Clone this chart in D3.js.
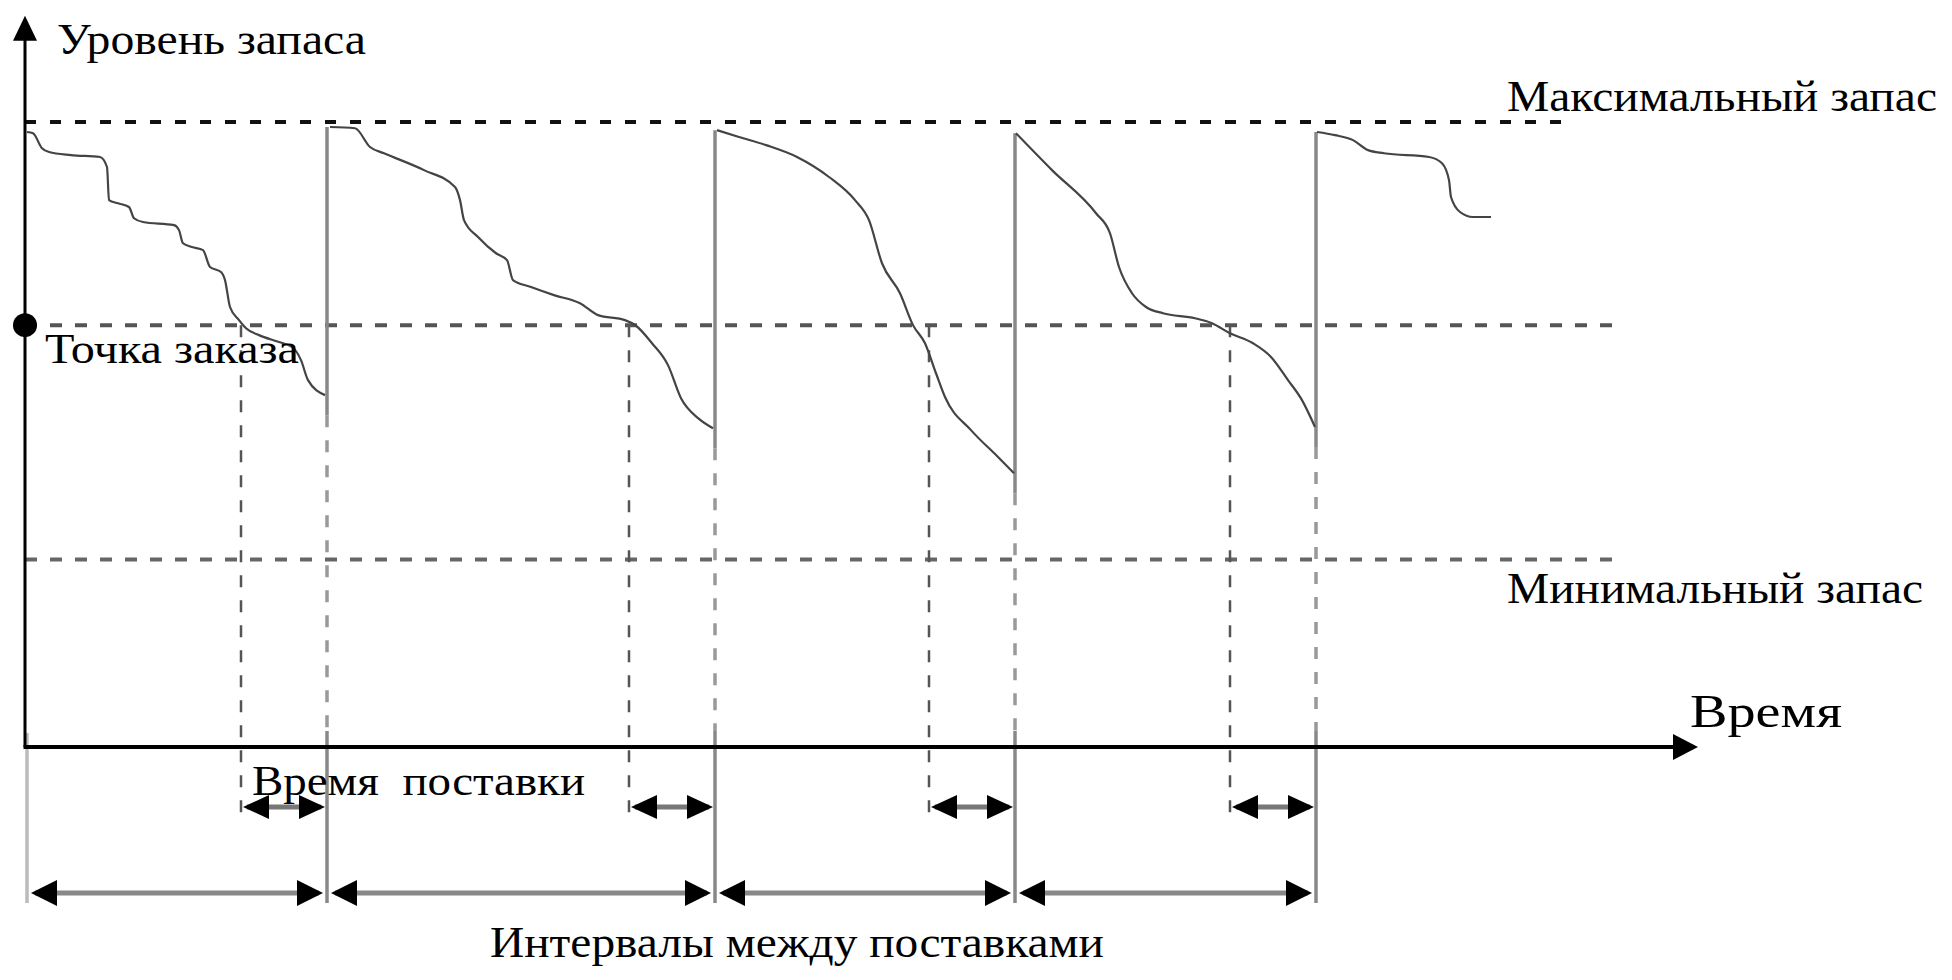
<!DOCTYPE html>
<html><head><meta charset="utf-8">
<script src="https://cdn.jsdelivr.net/npm/d3@7"></script>
<style>
html,body{margin:0;padding:0;background:#fff;}
svg{display:block;}
text{font-family:"Liberation Serif","DejaVu Serif",serif;fill:#000;}
</style>
</head><body>
<svg id="chart" width="1952" height="980"></svg>
<script>
// ---- data (time units / stock level units, max stock = 100) ----
const cycle1 = [[0.2,98.4],[0.8,98.2],[1.7,95.8],[2.4,95.2],[4.6,94.7],[7.5,94.4],[8.2,92.8],[8.4,87.5],[9.3,87.0],[10.4,86.4],[10.9,84.6],[11.8,84.0],[14.9,83.5],[15.4,82.7],[15.8,80.6],[16.7,80.0],[17.8,79.5],[18.5,76.8],[19.6,76.0],[20.0,74.7],[20.5,70.4],[21.4,68.3],[22.1,67.0],[23.4,65.9],[25.4,64.8],[26.7,64.0],[27.6,61.9],[28.3,58.7],[30.0,56.3]];
const cycle2 = [[30.5,99.2],[33.0,99.0],[34.5,96.0],[35.9,95.0],[39.9,92.3],[43.0,89.6],[43.5,87.5],[43.9,84.3],[45.3,81.6],[47.1,79.0],[48.2,77.9],[48.8,74.7],[50.6,73.6],[52.9,72.3],[55.5,71.0],[57.3,69.1],[60.0,68.3],[61.1,67.4],[62.7,64.6],[64.3,61.1],[65.6,55.8],[67.4,52.5],[68.8,51.0]];
const cycle3 = [[69.2,98.7],[71.4,97.6],[74.1,96.3],[77.2,94.4],[80.4,91.2],[83.0,87.5],[84.4,84.3],[85.7,77.4],[87.5,72.6],[88.8,67.5],[90.0,64.6],[91.1,59.8],[92.0,56.0],[94.6,50.7],[97.3,46.4],[98.9,43.8]];
const cycle4 = [[99.1,98.2],[102.7,92.3],[107.1,85.4],[108.5,82.2],[109.4,76.8],[110.7,72.6],[112.1,70.4],[113.8,69.4],[117.0,68.6],[118.7,67.8],[120.5,66.2],[122.8,64.6],[124.6,62.4],[126.3,58.7],[127.7,55.5],[129.0,51.2]];
const cycle5 = [[129.2,98.4],[131.0,97.9],[132.8,97.1],[134.3,95.5],[135.9,95.0],[140.4,94.4],[141.7,93.4],[142.4,90.7],[142.6,88.0],[143.5,85.6],[144.8,84.8],[146.6,84.8]];
const cycles = [cycle1, cycle2, cycle3, cycle4, cycle5];

const orderTimes    = [21.6, 60.4, 90.4, 120.5];
const deliveryTimes = [30.2, 69.0, 99.0, 129.1];
const intervalBounds = [0.2, 30.2, 69.0, 99.0, 129.1];

const maxLevel = 100;
const reorderLevel = 67.5;
const minLevel = 30;

const labelYAxis   = "Уровень запаса";
const labelXAxis   = "Время";
const labelMax     = "Максимальный запас";
const labelMin     = "Минимальный запас";
const labelReorder = "Точка заказа";
const labelLead    = "Время  поставки";
const labelCycle   = "Интервалы между поставками";

// ---- scales ----
const x = d3.scaleLinear().domain([0, 167.3]).range([25, 1698]);
const y = d3.scaleLinear().domain([0, 100]).range([747, 122]);

const svg = d3.select("#chart");
const g = svg.append("g");
const y0 = y(0);

// reference lines
function hline(level, t1, color, width, dash) {
  g.append("line").attr("x1", x(0)).attr("x2", x(t1))
    .attr("y1", y(level)).attr("y2", y(level))
    .attr("stroke", color).attr("stroke-width", width).attr("stroke-dasharray", dash);
}
hline(maxLevel, 154.0, "#111", 4, "11,14");
hline(reorderLevel, 159.4, "#555", 4, "12,13");
hline(minLevel, 159.4, "#666", 4, "12,13");

// order-point dashed verticals
g.selectAll(".order").data(orderTimes).enter().append("line")
  .attr("x1", d => x(d)).attr("x2", d => x(d))
  .attr("y1", y(reorderLevel)).attr("y2", y0 + 66)
  .attr("stroke", "#555").attr("stroke-width", 2.5).attr("stroke-dasharray", "12,13");

// replenishment verticals
deliveryTimes.forEach((t, i) => {
  const prev = cycles[i], next = cycles[i + 1];
  const top = y(next[0][1]);
  const low = y(prev[prev.length - 1][1]);
  g.append("line").attr("x1", x(t)).attr("x2", x(t)).attr("y1", top).attr("y2", low + 20)
    .attr("stroke", "#888").attr("stroke-width", 3.5);
  g.append("line").attr("x1", x(t)).attr("x2", x(t)).attr("y1", low + 20).attr("y2", y0 - 16)
    .attr("stroke", "#999").attr("stroke-width", 3.5).attr("stroke-dasharray", "12,13");
  g.append("line").attr("x1", x(t)).attr("x2", x(t)).attr("y1", y0 - 16).attr("y2", y0 + 156)
    .attr("stroke", "#888").attr("stroke-width", 3.5);
});
// left boundary below axis
g.append("line").attr("x1", x(intervalBounds[0])).attr("x2", x(intervalBounds[0]))
  .attr("y1", y0 - 14).attr("y2", y0 + 156).attr("stroke", "#bbb").attr("stroke-width", 3.5);

// stock curves
const line = d3.line().x(d => x(d[0])).y(d => y(d[1])).curve(d3.curveMonotoneX);
g.selectAll(".cyc").data(cycles).enter().append("path")
  .attr("d", line).attr("fill", "none").attr("stroke", "#444").attr("stroke-width", 2.2);

// axes
g.append("line").attr("x1", x(0)).attr("x2", x(0)).attr("y1", y0).attr("y2", y(117) + 20)
  .attr("stroke", "#000").attr("stroke-width", 3);
g.append("path").attr("d", `M${x(0)},${y(117)} L${x(0) - 12},${y(117) + 25} L${x(0) + 12},${y(117) + 25} Z`).attr("fill", "#000");
g.append("line").attr("x1", x(0) - 1.5).attr("x2", x(167.3) - 20).attr("y1", y0).attr("y2", y0)
  .attr("stroke", "#000").attr("stroke-width", 4);
g.append("path").attr("d", `M${x(167.3)},${y0} L${x(167.3) - 25},${y0 - 13} L${x(167.3) - 25},${y0 + 13} Z`).attr("fill", "#000");

// reorder point dot
g.append("circle").attr("cx", x(0)).attr("cy", y(reorderLevel)).attr("r", 12).attr("fill", "#000");

// double arrows
function dblArrow(t1, t2, yy, inset, hl, hw, color, width) {
  const a = x(t1) + inset, b = x(t2) - inset;
  g.append("line").attr("x1", a + 4).attr("x2", b - 4).attr("y1", yy).attr("y2", yy)
    .attr("stroke", color).attr("stroke-width", width);
  g.append("path").attr("d", `M${a},${yy} L${a + hl},${yy - hw} L${a + hl},${yy + hw} Z`).attr("fill", "#000");
  g.append("path").attr("d", `M${b},${yy} L${b - hl},${yy - hw} L${b - hl},${yy + hw} Z`).attr("fill", "#000");
}
orderTimes.forEach((t, i) => dblArrow(t, deliveryTimes[i], y0 + 60, 2, 26, 12, "#777", 5));
for (let i = 0; i < intervalBounds.length - 1; i++) {
  dblArrow(intervalBounds[i], intervalBounds[i + 1], y0 + 146, 4, 26, 13, "#888", 5);
}

// labels
function label(txt, px, py, size, len) {
  g.append("text").attr("x", px).attr("y", py).attr("font-size", size)
    .attr("textLength", len).attr("lengthAdjust", "spacingAndGlyphs")
    .style("white-space", "pre").text(txt);
}
label(labelYAxis, 57, 54, 44, 309);
label(labelMax, 1507, 111, 45, 430);
label(labelReorder, 45, 363, 43, 254);
label(labelMin, 1507, 603, 44, 416);
label(labelXAxis, 1690, 727, 46, 152);
label(labelLead, 252, 795, 43, 333);
label(labelCycle, 490, 957, 45, 614);
</script>
</body></html>
